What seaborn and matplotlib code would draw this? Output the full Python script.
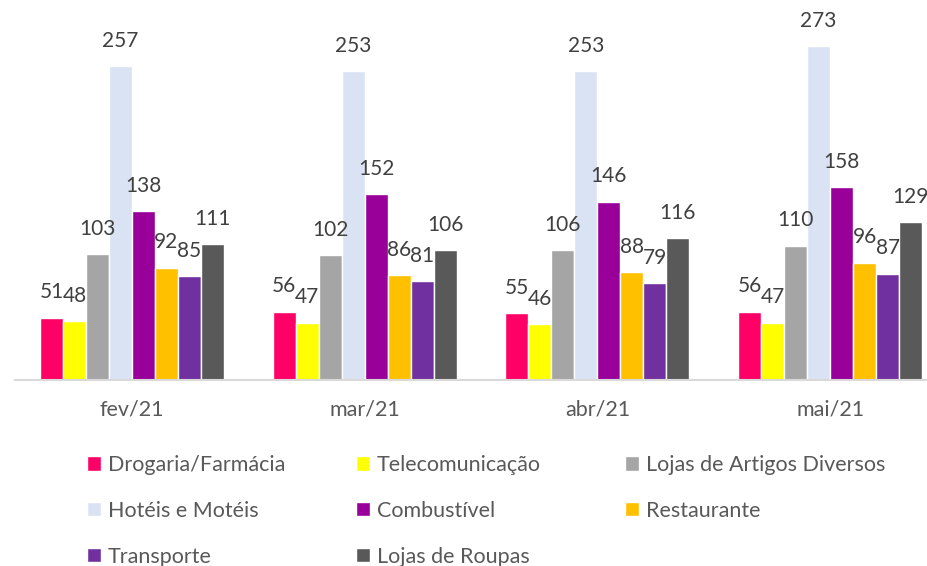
import matplotlib
matplotlib.use("Agg")
import matplotlib.pyplot as plt
import seaborn as sns
import pandas as pd

# dados
meses = ["fev/21", "mar/21", "abr/21", "mai/21"]
categorias = ["Drogaria/Farmácia", "Telecomunicação", "Lojas de Artigos Diversos",
              "Hotéis e Motéis", "Combustível", "Restaurante",
              "Transporte", "Lojas de Roupas"]
drogaria = [51, 56, 55, 56]
telecom = [48, 47, 46, 47]
artigos = [103, 102, 106, 110]
hoteis = [257, 253, 253, 273]
combustivel = [138, 152, 146, 158]
restaurante = [92, 86, 88, 96]
transporte = [85, 81, 79, 87]
roupas = [111, 106, 116, 129]
cores = ["#FF0066", "#FFFF00", "#A5A5A5", "#DAE3F3",
         "#990099", "#FFC000", "#7030A0", "#595959"]

series = [drogaria, telecom, artigos, hoteis, combustivel, restaurante, transporte, roupas]
rows = []
for cat, vals in zip(categorias, series):
    for m, v in zip(meses, vals):
        rows.append({"mes": m, "categoria": cat, "valor": v})
df = pd.DataFrame(rows)

sns.set_style("white")
plt.rcParams["font.family"] = ["Lato", "DejaVu Sans"]
texto = "#404040"
texto_leg = "#595959"

fig = plt.figure(figsize=(9.27, 5.66), dpi=100)
ax = fig.add_axes([15.5 / 927, 1 - 380 / 566, 931 / 927, 380 / 566])

sns.barplot(data=df, x="mes", y="valor", hue="categoria", hue_order=categorias,
            palette=cores, saturation=1, width=0.79, ax=ax, legend=True)

for cont in ax.containers:
    ax.bar_label(cont, padding=11, fontsize=15, color=texto)

ax.set_ylim(0, 311)
ax.set_xlim(-0.5, 3.5)
ax.set_xlabel("")
ax.set_ylabel("")
ax.set_yticks([])
for s in ["left", "right", "top"]:
    ax.spines[s].set_visible(False)
ax.spines["bottom"].set_color("#D9D9D9")
ax.spines["bottom"].set_linewidth(1.5)
ax.tick_params(axis="x", length=0, pad=14, labelsize=15.5, labelcolor=texto_leg)

handles, labels = ax.get_legend_handles_labels()
ax.get_legend().remove()

# legenda em 3 colunas de largura fixa, preenchida por linha
col_x = [87, 356, 625]
for c in range(3):
    idx = list(range(c, len(handles), 3))
    fig.legend([handles[i] for i in idx], [labels[i] for i in idx],
               loc="upper left", bbox_to_anchor=(col_x[c] / 927, 1 - 455 / 566),
               ncol=1, frameon=False, fontsize=15.5, labelcolor=texto_leg,
               handlelength=0.65, handleheight=0.65, handletextpad=0.33,
               labelspacing=1.2, borderpad=0, borderaxespad=0)

fig.savefig("out.png", dpi=100)
